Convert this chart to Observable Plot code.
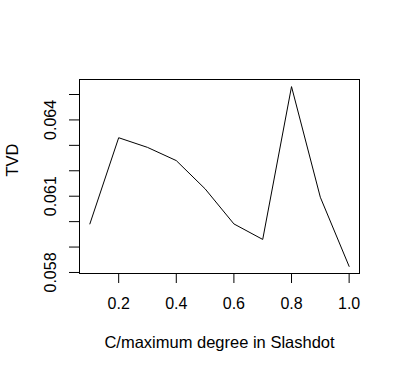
<!DOCTYPE html>
<html>
<head>
<meta charset="utf-8">
<script src="https://cdn.jsdelivr.net/npm/d3@7"></script>
<script src="https://cdn.jsdelivr.net/npm/@observablehq/plot@0.6"></script>
<style>
  html, body { margin: 0; padding: 0; background: #fff; }
</style>
</head>
<body>
<div id="chart"></div>
<script>
const cValues = [0.1, 0.2, 0.3, 0.4, 0.5, 0.6, 0.7, 0.8, 0.9, 1.0];
const tvdValues = [0.05991, 0.06330, 0.06292, 0.06240, 0.06129, 0.05991, 0.05930, 0.06531, 0.06096, 0.05824];
const xTicks = [0.2, 0.4, 0.6, 0.8, 1.0];
const yTicks = [0.058, 0.059, 0.060, 0.061, 0.062, 0.063, 0.064, 0.065];
const yLabeledTicks = [0.058, 0.061, 0.064];
const xTitle = "C/maximum degree in Slashdot";
const yTitle = "TVD";

const data = cValues.map((c, i) => ({c, tvd: tvdValues[i]}));
const font = "'Liberation Sans', Arial, Helvetica, sans-serif";

const chart = Plot.plot({
  width: 400,
  height: 372,
  marginLeft: 79,
  marginRight: 41,
  marginTop: 79,
  marginBottom: 99,
  style: {fontFamily: font, fontSize: "16px", background: "#fff", color: "#000"},
  x: {domain: [0.064, 1.036]},
  y: {domain: [0.05796, 0.06559]},
  marks: [
    Plot.frame({stroke: "#000"}),
    Plot.line(data, {x: "c", y: "tvd", stroke: "#000", strokeWidth: 1}),
    Plot.axisX({ticks: xTicks, tickSize: 10, tickPadding: 14, tickFormat: d3.format(".1f"), label: null, fontSize: 16}),
    Plot.axisY({ticks: yTicks, tickSize: 10, tickPadding: 14, tickRotate: -90,
      tickFormat: d => yLabeledTicks.some(v => Math.abs(v - d) < 1e-9) ? d3.format(".3f")(d) : "",
      label: null, fontSize: 16}),
    Plot.text([xTitle], {frameAnchor: "bottom", lineAnchor: "bottom", dy: 74.5, fontSize: 16.5, fill: "#000"}),
    Plot.text([yTitle], {frameAnchor: "left", lineAnchor: "bottom", rotate: -90, dx: -61.5, fontSize: 16.5, fill: "#000"})
  ]
});
document.getElementById("chart").appendChild(chart);
</script>
</body>
</html>
